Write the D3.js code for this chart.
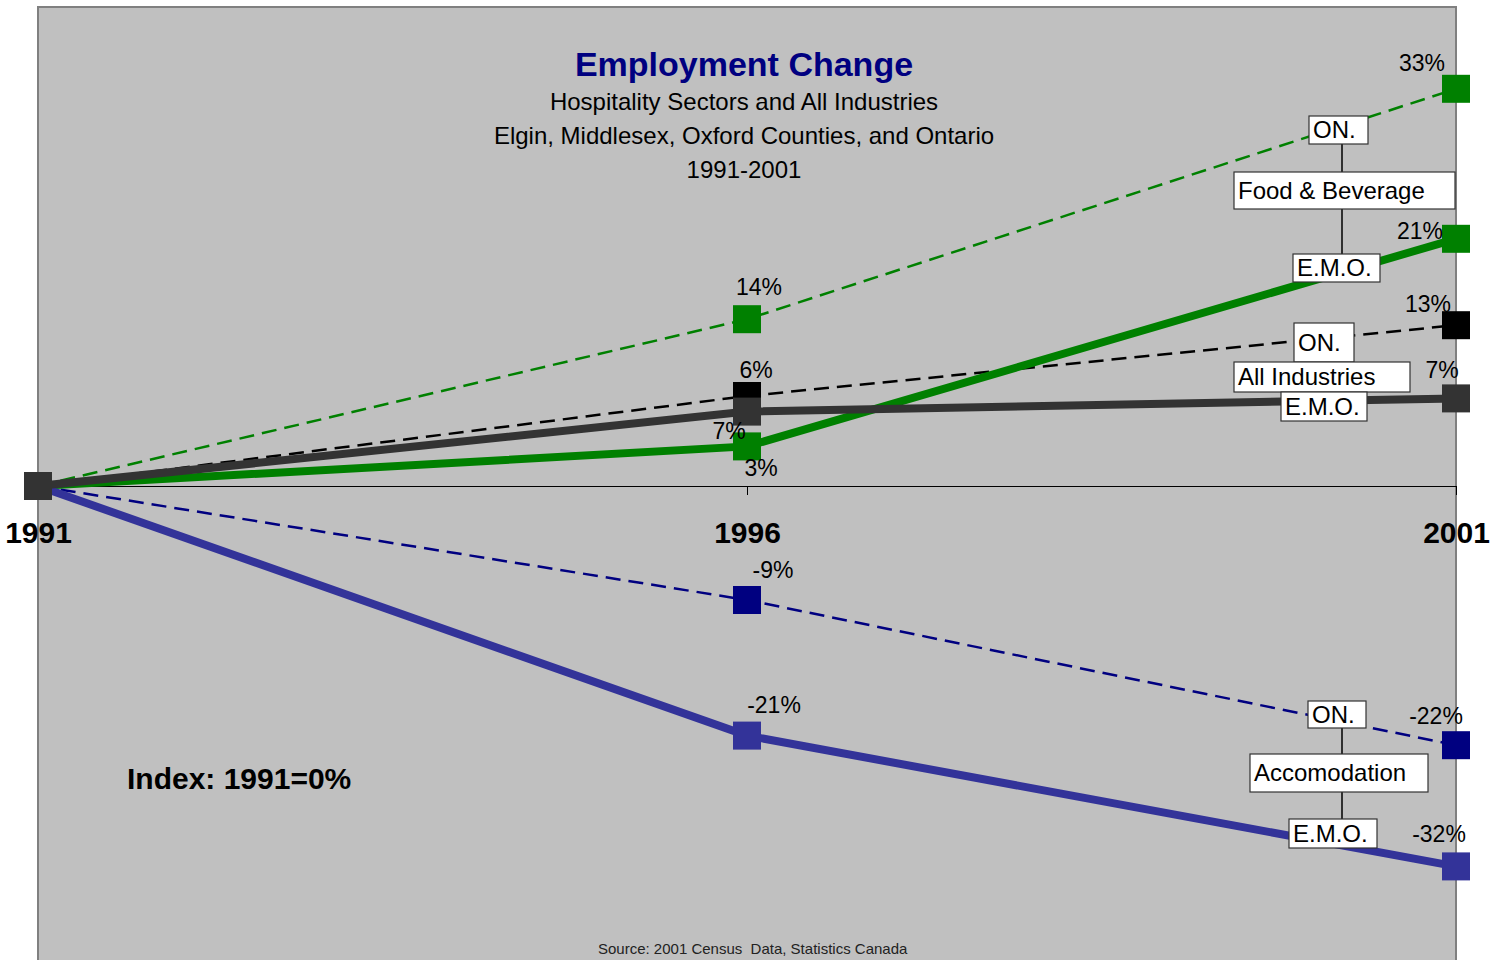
<html lang="en">
<head>
<meta charset="utf-8">
<title>Employment Change</title>
<script src="https://cdn.jsdelivr.net/npm/d3@7"></script>
<style>
  body { margin: 0; background: #fff; }
  text { font-family: "Liberation Sans", Arial, sans-serif; }
</style>
</head>
<body>
<script>
// data
var years = ["1991", "1996", "2001"];
var onFood = [0, 13.9, 33.1];
var emoFood = [0, 3.3, 20.6];
var onAll = [0, 7.5, 13.4];
var emoAll = [0, 6.2, 7.3];
var onAccom = [0, -9.5, -21.6];
var emoAccom = [0, -20.8, -31.7];
var onFoodLabels = ["", "14%", "33%"];
var emoFoodLabels = ["", "3%", "21%"];
var onAllLabels = ["", "6%", "13%"];
var emoAllLabels = ["", "7%", "7%"];
var onAccomLabels = ["", "-9%", "-22%"];
var emoAccomLabels = ["", "-21%", "-32%"];

var w = 1503, h = 960;
var svg = d3.select("body").append("svg").attr("width", w).attr("height", h);

var x = d3.scalePoint().domain(years).range([38, 1456]);
var y = d3.scaleLinear().domain([-40, 40]).range([966, 6]);

// plot area
svg.append("rect").attr("x", 38).attr("y", 7).attr("width", 1418).attr("height", 980)
    .attr("fill", "#c0c0c0").attr("stroke", "#808080").attr("stroke-width", 2);

// zero axis
var axis = svg.append("g").attr("transform", "translate(0," + y(0) + ")")
    .call(d3.axisBottom(x).tickSize(9).tickSizeOuter(0));
axis.select(".domain").attr("stroke", "#000");
axis.selectAll(".tick line").attr("stroke", "#000");
axis.selectAll(".tick text").attr("fill", "#000").attr("font-size", 30).attr("font-weight", "bold")
    .attr("y", 57).attr("dy", 0).style("font-family", "'Liberation Sans', Arial, sans-serif");

// series; labels dx/dy are offsets from the point
var series = [
  {v: onFood, lab: onFoodLabels, color: "#008000", dash: true, off: [[0,0],[12,-24],[-34,-18]]},
  {v: onAll, lab: onAllLabels, color: "#000000", dash: true, off: [[0,0],[9,-18],[-28,-13]]},
  {v: onAccom, lab: onAccomLabels, color: "#000080", dash: true, off: [[0,0],[26,-22],[-20,-21]]},
  {v: emoFood, lab: emoFoodLabels, color: "#008000", dash: false, off: [[0,0],[14,30],[-36,0]]},
  {v: emoAccom, lab: emoAccomLabels, color: "#333399", dash: false, off: [[0,0],[27,-23],[-17,-24]]},
  {v: emoAll, lab: emoAllLabels, color: "#333333", dash: false, off: [[0,0],[-18,27],[-14,-20]]}
];

var line = d3.line().x(function(d, i) { return x(years[i]); }).y(function(d) { return y(d); });

series.forEach(function(s) {
  svg.append("path").datum(s.v).attr("d", line).attr("fill", "none")
      .attr("stroke", s.color)
      .attr("stroke-width", s.dash ? 2.5 : 8)
      .attr("stroke-dasharray", s.dash ? "15,8" : null);
});

series.forEach(function(s) {
  svg.selectAll(null).data(s.v).enter().append("rect")
      .attr("x", function(d, i) { return x(years[i]) - 14; })
      .attr("y", function(d) { return y(d) - 14; })
      .attr("width", 28).attr("height", 28)
      .attr("fill", s.color);
});

series.forEach(function(s) {
  svg.selectAll(null).data(s.v).enter().append("text")
      .attr("x", function(d, i) { return x(years[i]) + s.off[i][0]; })
      .attr("y", function(d, i) { return y(d) + s.off[i][1]; })
      .attr("text-anchor", "middle").attr("font-size", 23)
      .text(function(d, i) { return s.lab[i]; });
});

// callout boxes
var callouts = [
  {cx: 1342, boxes: [["ON.", 1309, 116, 59, 28], ["Food & Beverage", 1234, 172, 221, 37], ["E.M.O.", 1293, 254, 87, 28]]},
  {cx: 1342, boxes: [["ON.", 1294, 323, 60, 39], ["All Industries", 1234, 362, 176, 30], ["E.M.O.", 1281, 392, 86, 29]]},
  {cx: 1342, boxes: [["ON.", 1308, 701, 58, 27], ["Accomodation", 1250, 754, 178, 38], ["E.M.O.", 1289, 819, 88, 29]]}
];
callouts.forEach(function(c) {
  var b = c.boxes;
  svg.append("line").attr("x1", c.cx).attr("x2", c.cx).attr("y1", b[0][2] + b[0][4]).attr("y2", b[2][2])
      .attr("stroke", "#000").attr("stroke-width", 1.5);
  b.forEach(function(bx) {
    svg.append("rect").attr("x", bx[1]).attr("y", bx[2]).attr("width", bx[3]).attr("height", bx[4])
        .attr("fill", "#fff").attr("stroke", "#333").attr("stroke-width", 1.2);
    svg.append("text").attr("x", bx[1] + 4).attr("y", bx[2] + bx[4] / 2 + 8)
        .attr("font-size", 24).text(bx[0]);
  });
});

// titles
svg.append("text").attr("x", 744).attr("y", 76).attr("text-anchor", "middle")
    .attr("font-size", 34).attr("font-weight", "bold").attr("fill", "#000080").text("Employment Change");
var sub = ["Hospitality Sectors and All Industries", "Elgin, Middlesex, Oxford Counties, and Ontario", "1991-2001"];
svg.selectAll(null).data(sub).enter().append("text")
    .attr("x", 744).attr("y", function(d, i) { return 110 + i * 34; })
    .attr("text-anchor", "middle").attr("font-size", 24).text(function(d) { return d; });

svg.append("text").attr("x", 127).attr("y", 789).attr("font-size", 30).attr("font-weight", "bold")
    .text("Index: 1991=0%");
svg.append("text").attr("x", 598).attr("y", 954).attr("font-size", 15).attr("fill", "#222")
    .style("white-space", "pre")
    .text("Source: 2001 Census  Data, Statistics Canada");
</script>
</body>
</html>
